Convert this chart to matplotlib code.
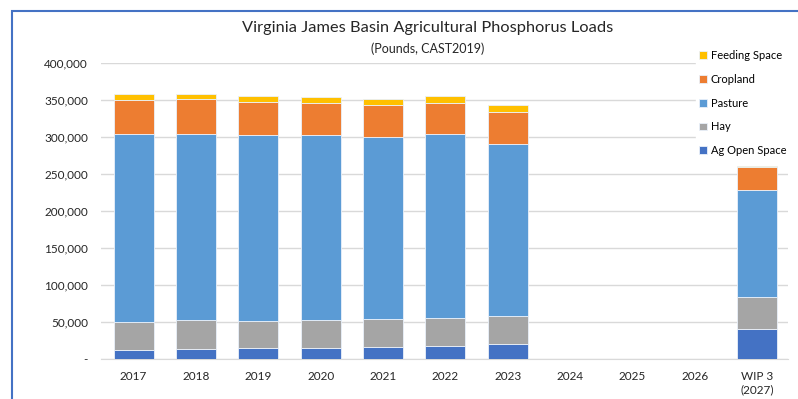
import numpy as np
import matplotlib.pyplot as plt
from matplotlib.patches import Rectangle
from matplotlib.ticker import FuncFormatter

plt.rcParams['font.family'] = ['Lato', 'DejaVu Sans']

years = ['2017', '2018', '2019', '2020', '2021', '2022', '2023',
         '2024', '2025', '2026', 'WIP 3\n(2027)']

# pounds of phosphorus
ag_open_space = [11500, 12800, 13800, 14200, 15500, 16500, 19600, 0, 0, 0, 39900]
hay = [38200, 39200, 37300, 37800, 37900, 38600, 37800, 0, 0, 0, 43600]
pasture = [254600, 252700, 252200, 250900, 247200, 249200, 233300, 0, 0, 0, 145100]
cropland = [46300, 46800, 44600, 42700, 42800, 41300, 43700, 0, 0, 0, 31500]
feeding_space = [7100, 7200, 7100, 8100, 8100, 9400, 8500, 0, 0, 0, 900]

series = [
    ('Ag Open Space', ag_open_space, '#4472C4'),
    ('Hay', hay, '#A5A5A5'),
    ('Pasture', pasture, '#5B9BD5'),
    ('Cropland', cropland, '#ED7D31'),
    ('Feeding Space', feeding_space, '#FFC000'),
]

fig = plt.figure(figsize=(7.98, 3.99), dpi=100)
ax = fig.add_axes([0.126, 0.1015, 0.862, 0.740])

x = np.arange(len(years))
bottom = np.zeros(len(years))
handles = []
for name, vals, color in series:
    vals = np.array(vals, dtype=float)
    b = ax.bar(x, vals, width=0.64, bottom=bottom, color=color,
               edgecolor='#EAF1FA', linewidth=0.6, label=name, zorder=3)
    handles.append(b)
    bottom += vals

ax.set_xlim(-0.53, 10.5)
ax.set_ylim(0, 400000)
ax.set_yticks(np.arange(0, 400001, 50000))
ax.yaxis.set_major_formatter(FuncFormatter(lambda v, p: '-' if v == 0 else f'{int(v):,}'))
ax.set_xticks(x)
ax.set_xticklabels(years)
ax.tick_params(axis='both', length=0, labelsize=8.5, colors='#262626')
ax.tick_params(axis='x', pad=9)
ax.tick_params(axis='y', pad=9)
ax.grid(axis='y', color='#D9D9D9', linewidth=1, zorder=0)
for s in ['top', 'right', 'left']:
    ax.spines[s].set_visible(False)
ax.spines['bottom'].set_color('#D9D9D9')

leg = ax.legend(handles[::-1], [s[0] for s in series][::-1],
                loc='upper right', bbox_to_anchor=(1.01, 1.075),
                fontsize=8, frameon=True, fancybox=False,
                edgecolor='white', framealpha=1, handlelength=0.7,
                handleheight=0.7, handletextpad=0.35, labelspacing=1.15,
                borderpad=0.3)
leg.set_zorder(5)

fig.text(0.536, 0.93, 'Virginia James Basin Agricultural Phosphorus Loads',
         ha='center', va='center', fontsize=11.8, color='#262626')
fig.text(0.536, 0.879, '(Pounds, CAST2019)', ha='center', va='center',
         fontsize=9, color='#262626')

# blue frame around the chart
fig.patches.append(Rectangle((12 / 798, -0.5), 2.0, 0.5 + 1 - 11 / 399,
                             transform=fig.transFigure, fill=False,
                             edgecolor='#4472C4', linewidth=1.5))

fig.savefig('out.png', dpi=100)
